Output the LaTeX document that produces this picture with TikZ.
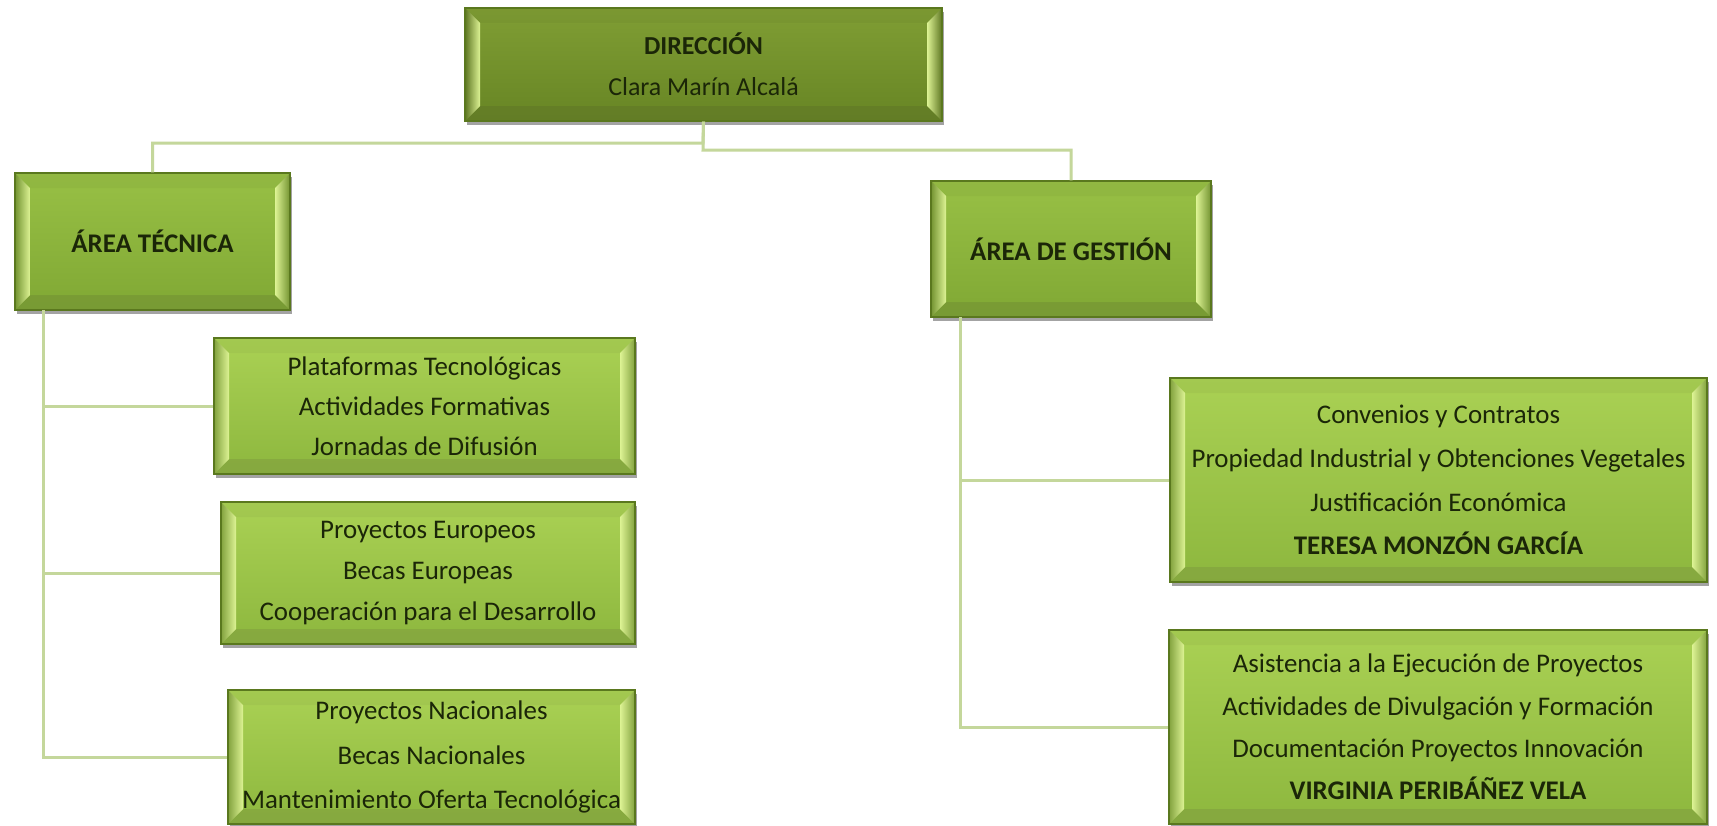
\documentclass[tikz,border=0pt]{standalone}
\usepackage{fontspec}
\setmainfont{Carlito}
\usetikzlibrary{calc,shadows}

\definecolor{edgec}{HTML}{5A781E}
\definecolor{conncol}{HTML}{C4D79B}
\definecolor{txtc}{HTML}{1B2608}
\definecolor{bevlight}{HTML}{DDF394}
\definecolor{dirTop}{HTML}{809E34}
\definecolor{dirBot}{HTML}{678524}
\definecolor{areaTop}{HTML}{98C045}
\definecolor{areaBot}{HTML}{80A834}
\definecolor{subTop}{HTML}{AAD154}
\definecolor{subBot}{HTML}{8DB73E}

\newcommand\bxbevel[1]{%
  \coordinate (pNW) at (path picture bounding box.north west);
  \coordinate (pSE) at (path picture bounding box.south east);
  \fill[#1!75!black, opacity=0.55] ($(pNW|-pSE)+(1,-1)$) -- ($(pNW|-pSE)+(15,-15)$) -- ($(pSE)+(-15,-15)$) -- ($(pSE)+(-1,-1)$) -- cycle;
  \fill[#1!85!black, opacity=0.25] ($(pNW)+(1,1)$) -- ($(pNW)+(15,15)$) -- ($(pSE|-pNW)+(-15,15)$) -- ($(pSE|-pNW)+(-1,1)$) -- cycle;
  \shade[left color=#1!80!black, right color=bevlight] ($(pNW)+(1,1)$) -- ($(pNW)+(15,15)$) -- ($(pNW|-pSE)+(15,-15)$) -- ($(pNW|-pSE)+(1,-1)$) -- cycle;
  \shade[left color=bevlight, right color=#1!80!black] ($(pSE|-pNW)+(-1,1)$) -- ($(pSE|-pNW)+(-15,15)$) -- ($(pSE)+(-15,-15)$) -- ($(pSE)+(-1,-1)$) -- cycle;
}

\tikzset{
  bx/.style={rectangle, draw=edgec, line width=1.2bp, inner sep=0pt, align=center,
    text=txtc, font=\fontsize{27}{41}\selectfont,
    drop shadow={shadow xshift=2bp, shadow yshift=-4bp, opacity=0.45, fill=black!80}},
  dirbox/.style={bx, top color=dirTop, bottom color=dirBot, path picture={\bxbevel{dirTop}}},
  areabox/.style={bx, top color=areaTop, bottom color=areaBot, path picture={\bxbevel{areaTop}}},
  subbox/.style={bx, top color=subTop, bottom color=subBot, path picture={\bxbevel{subTop}}},
  conn/.style={draw=conncol, line width=3bp},
}

\begin{document}
\begin{tikzpicture}[x=1bp, y=-1bp]
\useasboundingbox[fill=white] (0,0) rectangle (1717,826);

\coordinate (jl) at (703,143);
\coordinate (jr) at (703,150);
\coordinate (trunkL) at (43,310);
\coordinate (trunkR) at (960,317);

\node[dirbox, minimum width=477bp, minimum height=113bp, font=\fontsize{26}{41}\selectfont] (dir) at (703.5,64.5)
  {\textbf{DIRECCIÓN}\\Clara Marín Alcalá};

\node[areabox, minimum width=275bp, minimum height=137bp] (at) at (152.5,241.5)
  {\textbf{ÁREA TÉCNICA}};
\node[areabox, minimum width=280bp, minimum height=136bp] (ag) at (1071,249)
  {\textbf{ÁREA DE GESTIÓN}};

\node[subbox, minimum width=421bp, minimum height=136bp, font=\fontsize{27}{40}\selectfont] (p1) at (424.5,406)
  {Plataformas Tecnológicas\\Actividades Formativas\\Jornadas de Difusión};
\node[subbox, minimum width=414bp, minimum height=142bp] (p2) at (428,573)
  {Proyectos Europeos\\Becas Europeas\\Cooperación para el Desarrollo};
\node[subbox, minimum width=407bp, minimum height=134bp, font=\fontsize{27}{45}\selectfont] (p3) at (431.5,757)
  {Proyectos Nacionales\\Becas Nacionales\\Mantenimiento Oferta Tecnológica};

\node[subbox, minimum width=537bp, minimum height=204bp, font=\fontsize{27}{44}\selectfont] (c1) at (1438.5,480)
  {Convenios y Contratos\\Propiedad Industrial y Obtenciones Vegetales\\Justificación Económica\\\textbf{TERESA MONZÓN GARCÍA}};
\node[subbox, minimum width=538bp, minimum height=194bp, font=\fontsize{27}{42.5}\selectfont] (c2) at (1438,727)
  {Asistencia a la Ejecución de Proyectos\\Actividades de Divulgación y Formación\\Documentación Proyectos Innovación\\\textbf{VIRGINIA PERIBÁÑEZ VELA}};

\draw[conn] (dir.south) -- (jl) -| (at.north);
\draw[conn] (dir.south) -- (jr) -| (ag.north);

\draw[conn] (trunkL) |- (p3.west);
\draw[conn] (trunkL |- p1.west) -- (p1.west);
\draw[conn] (trunkL |- p2.west) -- (p2.west);

\draw[conn] (trunkR) |- (c2.west);
\draw[conn] (trunkR |- c1.west) -- (c1.west);
\end{tikzpicture}
\end{document}
